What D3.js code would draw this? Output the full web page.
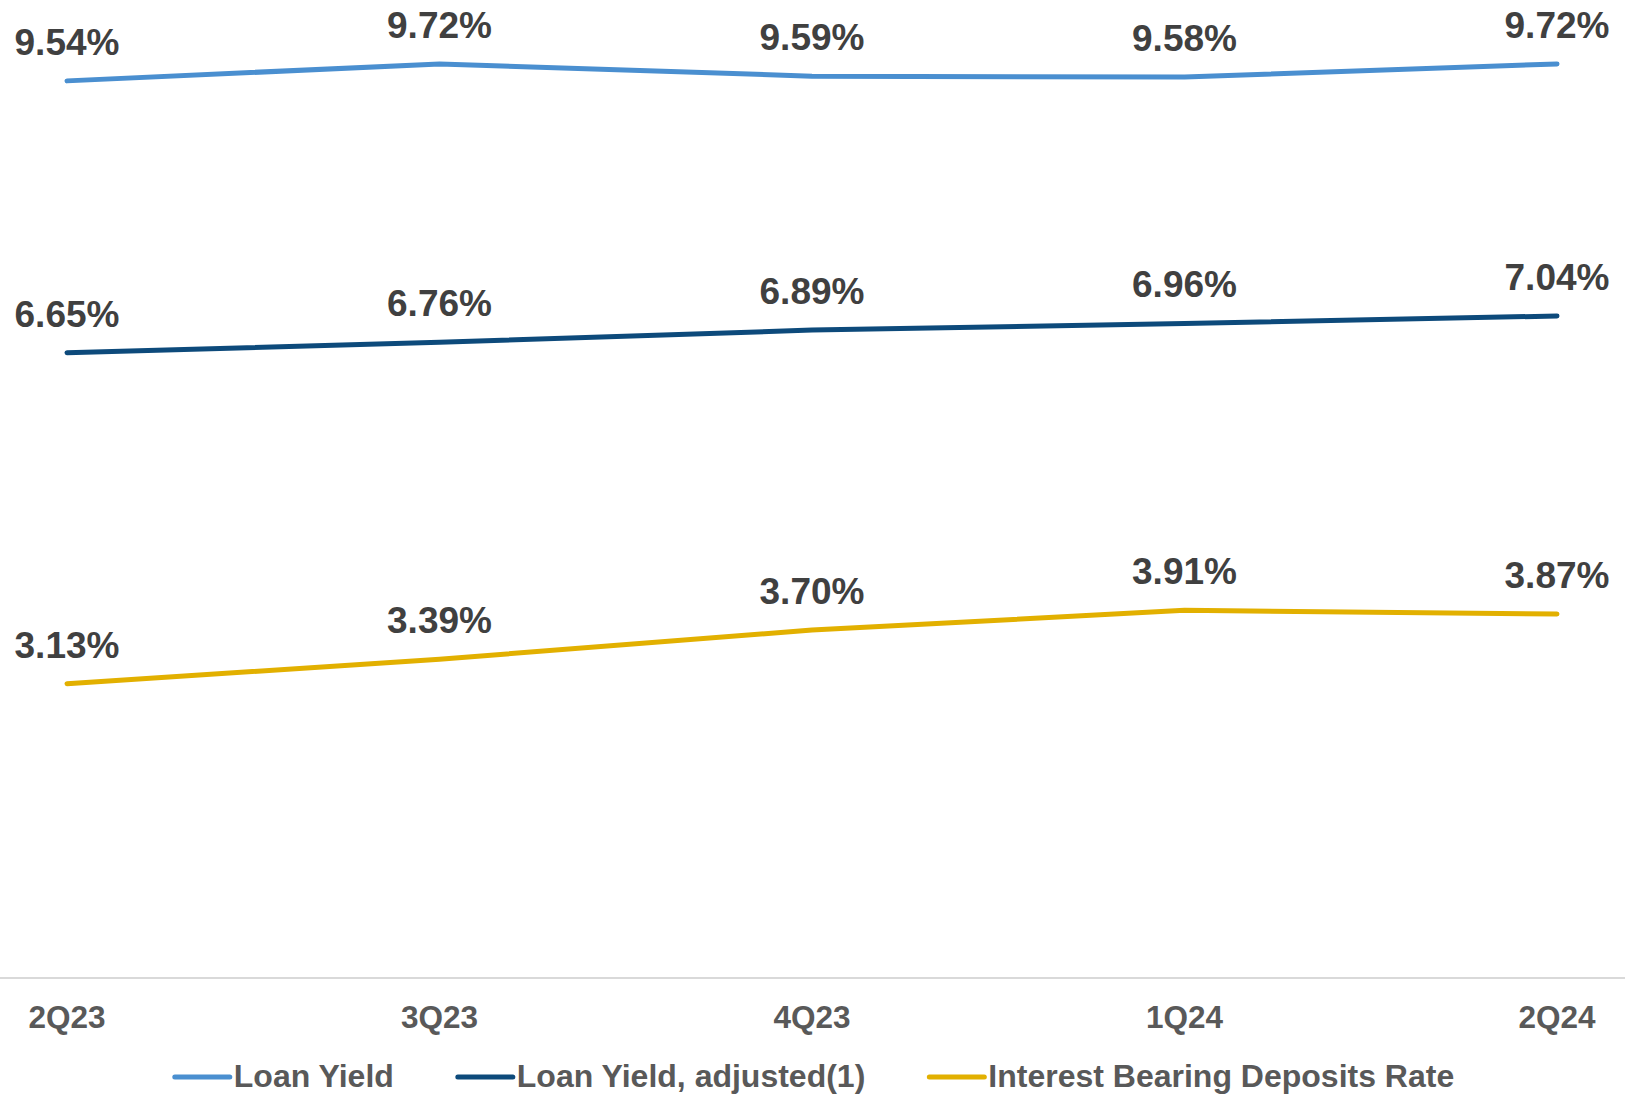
<!DOCTYPE html>
<html>
<head>
<meta charset="utf-8">
<script src="https://cdn.jsdelivr.net/npm/d3@7"></script>
<style>
  body { margin: 0; background: #fff; }
  svg { display: block; font-family: "Liberation Sans", Arial, sans-serif; }
</style>
</head>
<body>
<div id="chart"></div>
<script>
var quarters = ["2Q23", "3Q23", "4Q23", "1Q24", "2Q24"];
var loanYield = [9.54, 9.72, 9.59, 9.58, 9.72];
var loanYieldAdj = [6.65, 6.76, 6.89, 6.96, 7.04];
var depositsRate = [3.13, 3.39, 3.70, 3.91, 3.87];
var seriesNames = ["Loan Yield", "Loan Yield, adjusted(1)", "Interest Bearing Deposits Rate"];
var seriesColors = ["#4A8FD0", "#0D4A7B", "#E2B000"];

var width = 1625;
var height = 1095;
var axisY = 978;

var svg = d3.select("#chart")
    .append("svg")
    .attr("width", width)
    .attr("height", height);

var x = d3.scalePoint()
    .domain(quarters)
    .range([67, 1557]);

var y = d3.scaleLinear()
    .domain([0, 10.4])
    .range([axisY, 0]);

// baseline
svg.append("line")
    .attr("x1", 0)
    .attr("x2", width)
    .attr("y1", axisY)
    .attr("y2", axisY)
    .attr("stroke", "#d9d9d9")
    .attr("stroke-width", 2);

// category labels
svg.append("g")
    .selectAll("text")
    .data(quarters)
    .join("text")
    .attr("x", function(d) { return x(d); })
    .attr("y", 1028)
    .attr("text-anchor", "middle")
    .attr("font-size", 31.5)
    .attr("font-weight", "bold")
    .attr("fill", "#595959")
    .text(function(d) { return d; });

var allSeries = [loanYield, loanYieldAdj, depositsRate];

var line = d3.line()
    .x(function(d, i) { return x(quarters[i]); })
    .y(function(d) { return y(d); });

allSeries.forEach(function(vals, si) {
  svg.append("path")
      .datum(vals)
      .attr("d", line)
      .attr("fill", "none")
      .attr("stroke", seriesColors[si])
      .attr("stroke-width", 5)
      .attr("stroke-linecap", "round")
      .attr("stroke-linejoin", "round");

  svg.append("g")
      .selectAll("text")
      .data(vals)
      .join("text")
      .attr("x", function(d, i) { return x(quarters[i]); })
      .attr("y", function(d) { return y(d) - 26; })
      .attr("text-anchor", "middle")
      .attr("font-size", 37)
      .attr("font-weight", "bold")
      .attr("fill", "#404040")
      .text(function(d) { return d.toFixed(2) + "%"; });
});

// legend
var legend = svg.append("g");
var cursor = 0;
var gap = 64;
seriesNames.forEach(function(name, i) {
  var item = legend.append("g").attr("transform", "translate(" + cursor + ",0)");
  item.append("line")
      .attr("x1", 0)
      .attr("x2", 55)
      .attr("y1", 1077)
      .attr("y2", 1077)
      .attr("stroke", seriesColors[i])
      .attr("stroke-width", 5)
      .attr("stroke-linecap", "round");
  var t = item.append("text")
      .attr("x", 59)
      .attr("y", 1087)
      .attr("font-size", 32)
      .attr("font-weight", "bold")
      .attr("fill", "#595959")
      .text(name);
  cursor += 59 + t.node().getComputedTextLength() + gap;
});
var legendWidth = cursor - gap;
legend.attr("transform", "translate(" + ((width - legendWidth) / 2 + 2) + ",0)");
</script>
</body>
</html>
